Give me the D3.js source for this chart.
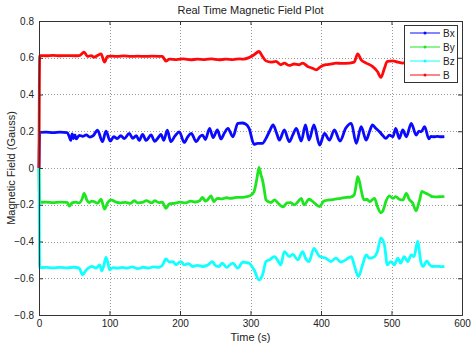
<!DOCTYPE html>
<html><head><meta charset="utf-8">
<script src="https://cdn.jsdelivr.net/npm/d3@7"></script>
<style>
body{margin:0;background:#fff;}
text{font-family:"Liberation Sans",Arial,sans-serif;fill:#222;}
</style></head><body>
<svg id="chart" width="474" height="348"></svg>
<script>
const title = "Real Time Magnetic Field Plot";
const xLabel = "Time (s)";
const yLabel = "Magnetic Field (Gauss)";
const xTicks = [0,100,200,300,400,500,600];
const yTicks = [-0.8,-0.6,-0.4,-0.2,0,0.2,0.4,0.6,0.8];
const seriesNames = ["Bx","By","Bz","B"];
const seriesColors = ["#0a0aff","#1ee61e","#10ffff","#ff0a0a"];

const bxTime = [0,1,10,20,30,40,43,45,47,49,51,53,57,62,67,72,77,83,90,95,101,106,111,116,121,128,133,138,142,147,152,159,164,170,173,177,182,187,193,199,206,211,216,223,228,232,236,242,247,253,258,263,268,275,282,288,293,298,305,310,317,322,327,332,337,341,348,355,360,365,372,378,383,390,398,405,412,419,427,435,443,450,457,464,469,473,478,483,488,492,497,502,506,511,516,521,528,535,539,542,547,553,556,560,565,570,575];
const bxValues = [0,0.194,0.195,0.193,0.195,0.193,0.170,0.150,0.185,0.160,0.180,0.158,0.178,0.172,0.180,0.168,0.176,0.206,0.143,0.200,0.146,0.170,0.160,0.176,0.160,0.188,0.162,0.176,0.150,0.183,0.150,0.180,0.145,0.170,0.183,0.150,0.206,0.143,0.175,0.197,0.139,0.170,0.188,0.143,0.170,0.179,0.155,0.216,0.165,0.207,0.158,0.190,0.216,0.170,0.243,0.245,0.240,0.216,0.129,0.134,0.134,0.161,0.200,0.234,0.190,0.152,0.207,0.143,0.180,0.216,0.147,0.234,0.152,0.234,0.125,0.188,0.152,0.207,0.147,0.216,0.243,0.134,0.225,0.152,0.200,0.234,0.215,0.197,0.175,0.161,0.179,0.170,0.216,0.161,0.207,0.170,0.243,0.179,0.200,0.197,0.225,0.158,0.172,0.170,0.172,0.170,0.171];

const byTime = [0,1,10,20,30,40,43,47,52,57,61,64,68,71,75,78,83,88,93,97,102,109,115,122,130,135,140,148,152,160,164,170,175,180,185,192,200,208,215,222,228,232,236,239,244,248,253,260,266,272,280,288,295,301,305,309,312,315,317,320,322,329,334,340,346,352,357,362,367,372,376,383,390,398,404,412,420,428,436,442,447,450,452,455,457,461,465,469,473,476,480,485,488,492,497,502,506,511,516,521,525,530,535,538,540,543,547,551,555,558,565,570,575];
const byValues = [0,-0.187,-0.186,-0.188,-0.186,-0.187,-0.207,-0.190,-0.186,-0.190,-0.170,-0.138,-0.175,-0.188,-0.180,-0.183,-0.192,-0.170,-0.224,-0.192,-0.174,-0.185,-0.190,-0.187,-0.192,-0.178,-0.190,-0.186,-0.178,-0.190,-0.178,-0.188,-0.186,-0.219,-0.195,-0.192,-0.186,-0.190,-0.180,-0.185,-0.178,-0.160,-0.180,-0.174,-0.152,-0.183,-0.165,-0.168,-0.162,-0.165,-0.160,-0.160,-0.156,-0.147,-0.129,-0.060,0.003,-0.040,-0.065,-0.130,-0.174,-0.188,-0.174,-0.195,-0.212,-0.190,-0.188,-0.201,-0.185,-0.165,-0.201,-0.170,-0.188,-0.210,-0.180,-0.174,-0.170,-0.165,-0.160,-0.158,-0.147,-0.090,-0.047,-0.080,-0.120,-0.174,-0.170,-0.183,-0.172,-0.165,-0.210,-0.244,-0.232,-0.183,-0.152,-0.165,-0.156,-0.170,-0.174,-0.138,-0.170,-0.190,-0.233,-0.200,-0.174,-0.127,-0.135,-0.141,-0.150,-0.156,-0.157,-0.156,-0.156];

const bzTime = [0,1,10,20,30,40,50,57,62,66,70,75,81,86,89,92,95,98,100,105,110,118,125,132,140,148,155,162,170,175,180,185,190,194,201,206,212,218,225,232,240,246,250,255,260,266,270,275,282,289,294,298,305,312,317,322,327,334,339,343,348,355,360,367,374,378,383,390,398,407,414,421,428,435,443,447,453,459,464,469,476,480,485,490,494,499,504,509,513,518,523,528,532,537,542,545,550,554,558,565,570,575];
const bzValues = [0,-0.542,-0.541,-0.543,-0.541,-0.543,-0.540,-0.545,-0.582,-0.560,-0.545,-0.536,-0.545,-0.527,-0.560,-0.530,-0.487,-0.520,-0.554,-0.542,-0.545,-0.541,-0.545,-0.538,-0.548,-0.540,-0.545,-0.538,-0.540,-0.530,-0.495,-0.512,-0.509,-0.527,-0.509,-0.527,-0.520,-0.536,-0.530,-0.536,-0.527,-0.509,-0.530,-0.536,-0.518,-0.541,-0.530,-0.518,-0.545,-0.512,-0.515,-0.518,-0.554,-0.609,-0.582,-0.509,-0.500,-0.482,-0.505,-0.527,-0.455,-0.482,-0.470,-0.500,-0.455,-0.491,-0.509,-0.437,-0.482,-0.491,-0.509,-0.491,-0.512,-0.500,-0.482,-0.527,-0.591,-0.527,-0.473,-0.491,-0.482,-0.455,-0.382,-0.418,-0.527,-0.509,-0.527,-0.491,-0.518,-0.482,-0.509,-0.473,-0.482,-0.400,-0.518,-0.536,-0.505,-0.527,-0.536,-0.535,-0.537,-0.536];

const bTime = [0,1,10,20,30,40,50,57,64,69,74,78,83,88,93,97,104,112,120,130,140,150,160,170,175,180,185,195,205,215,225,235,245,255,265,275,285,290,298,305,312,317,322,329,336,343,348,355,362,369,374,381,388,393,400,407,415,421,430,440,447,452,457,464,473,480,485,490,494,502,509,516,525,535,545,555,565,575];
const bValues = [0,0.612,0.611,0.613,0.611,0.612,0.611,0.612,0.630,0.607,0.612,0.603,0.612,0.621,0.576,0.607,0.609,0.607,0.610,0.607,0.609,0.607,0.609,0.608,0.607,0.582,0.592,0.590,0.594,0.589,0.592,0.590,0.594,0.589,0.592,0.590,0.594,0.592,0.601,0.616,0.634,0.607,0.583,0.576,0.580,0.562,0.571,0.558,0.566,0.562,0.571,0.553,0.543,0.534,0.553,0.562,0.566,0.571,0.569,0.571,0.576,0.621,0.589,0.571,0.553,0.525,0.493,0.543,0.580,0.583,0.576,0.571,0.575,0.573,0.575,0.574,0.575,0.574];

const seriesTimes = [bxTime, byTime, bzTime, bTime];
const seriesValues = [bxValues, byValues, bzValues, bValues];

const svg = d3.select("#chart");
const L = 39, R = 462, T = 21, B = 315;
const x = d3.scaleLinear().domain([0,600]).range([L,R]);
const y = d3.scaleLinear().domain([-0.8,0.8]).range([B,T]);

// grid
const grid = svg.append("g").attr("stroke","#9a9a9a").attr("stroke-width",1).attr("stroke-dasharray","1,2");
xTicks.forEach(t=>{ if(t>0 && t<600) grid.append("line").attr("x1",Math.round(x(t))+0.5).attr("x2",Math.round(x(t))+0.5).attr("y1",T).attr("y2",B); });
yTicks.forEach(t=>{ if(t>-0.8 && t<0.8) grid.append("line").attr("x1",L).attr("x2",R).attr("y1",Math.round(y(t))+0.5).attr("y2",Math.round(y(t))+0.5); });

// data
const line = d3.line().x(d=>x(d[0])).y(d=>y(d[1])).curve(d3.curveMonotoneX);
const plot = svg.append("g");
seriesNames.forEach((n,i)=>{
  const pts = seriesTimes[i].map((t,j)=>[t, seriesValues[i][j]]);
  plot.append("path").datum(pts).attr("d",line).attr("fill","none")
    .attr("stroke",seriesColors[i]).attr("stroke-width",2.8).attr("stroke-linejoin","round");
});

// axes (MATLAB style, ticks inside)
const axisColor = "#333";
const gB = svg.append("g").attr("transform",`translate(0,${B})`).call(d3.axisBottom(x).tickValues(xTicks).tickSize(-4).tickPadding(5).tickFormat(d3.format("d")));
const gT = svg.append("g").attr("transform",`translate(0,${T})`).call(d3.axisTop(x).tickValues(xTicks).tickSize(-4).tickFormat(""));
const gL = svg.append("g").attr("transform",`translate(${L},0)`).call(d3.axisLeft(y).tickValues(yTicks).tickSize(-4).tickPadding(5).tickFormat(d=>d===0?"0":d3.format(".1f")(d)));
const gR = svg.append("g").attr("transform",`translate(${R},0)`).call(d3.axisRight(y).tickValues(yTicks).tickSize(-4).tickFormat(""));
[gB,gT,gL,gR].forEach(g=>{
  g.select(".domain").attr("stroke",axisColor).attr("stroke-width",1);
  g.selectAll(".tick line").attr("stroke",axisColor);
  g.selectAll("text").attr("font-size",10).attr("fill","#222").attr("font-family","Liberation Sans, Arial, sans-serif");
});

// titles
svg.append("text").attr("x",(L+R)/2).attr("y",14).attr("text-anchor","middle").attr("font-size",11).text(title);
svg.append("text").attr("x",(L+R)/2).attr("y",341).attr("text-anchor","middle").attr("font-size",11).text(xLabel);
svg.append("text").attr("transform",`translate(15,${(T+B)/2}) rotate(-90)`).attr("text-anchor","middle").attr("font-size",11).text(yLabel);

// legend
const lg = svg.append("g");
lg.append("rect").attr("x",404.5).attr("y",25.5).attr("width",53).attr("height",57).attr("fill","#fff").attr("stroke","#333");
seriesNames.forEach((n,i)=>{
  const yy = 33 + i*14;
  lg.append("line").attr("x1",410).attr("x2",440).attr("y1",yy).attr("y2",yy).attr("stroke",seriesColors[i]).attr("stroke-width",1);
  lg.append("circle").attr("cx",425).attr("cy",yy).attr("r",1.5).attr("fill",seriesColors[i]);
  lg.append("text").attr("x",443).attr("y",yy+3.5).attr("font-size",10).text(n);
});
</script>
</body></html>
